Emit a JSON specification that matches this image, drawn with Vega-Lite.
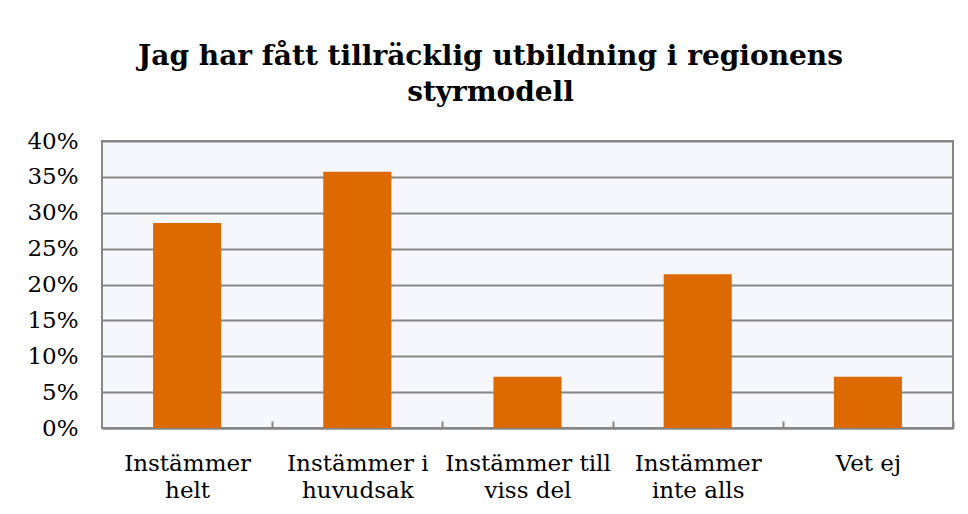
{
  "$schema": "https://vega.github.io/schema/vega-lite/v6.json",
  "autosize": "none",
  "width": 851,
  "height": 287,
  "padding": {"left": 102, "top": 141, "right": 15, "bottom": 86},
  "background": "#ffffff",
  "title": {
    "text": ["Jag har fått tillräcklig utbildning i regionens", "styrmodell"],
    "font": "DejaVu Serif",
    "fontSize": 28,
    "fontWeight": "bold",
    "color": "#000000",
    "anchor": "middle",
    "lineHeight": 36,
    "offset": 23,
    "dx": -37
  },
  "data": {
    "values": [
      {"kategori": "Instämmer|helt", "andel": 0.2857},
      {"kategori": "Instämmer i|huvudsak", "andel": 0.3571},
      {"kategori": "Instämmer till|viss del", "andel": 0.0714},
      {"kategori": "Instämmer|inte alls", "andel": 0.2143},
      {"kategori": "Vet ej", "andel": 0.0714}
    ]
  },
  "mark": {"type": "bar", "color": "#DC6A00"},
  "encoding": {
    "x": {
      "field": "kategori",
      "type": "nominal",
      "sort": null,
      "scale": {"paddingInner": 0.6, "paddingOuter": 0.3},
      "axis": {
        "title": null,
        "labelAngle": 0,
        "labelExpr": "split(datum.value, '|')",
        "labelFont": "DejaVu Serif",
        "labelFontSize": 23,
        "labelColor": "#000000",
        "labelLineHeight": 27,
        "labelPadding": 49,
        "labelBaseline": "alphabetic",
        "labelOffset": -85.1,
        "domain": true,
        "domainColor": "#868686",
        "domainWidth": 2,
        "ticks": true,
        "tickOffset": 85.1,
        "tickSize": -7,
        "tickColor": "#868686",
        "tickWidth": 2,
        "grid": false
      }
    },
    "y": {
      "field": "andel",
      "type": "quantitative",
      "scale": {"domain": [0, 0.4], "nice": false},
      "axis": {
        "title": null,
        "values": [0, 0.05, 0.1, 0.15, 0.2, 0.25, 0.3, 0.35, 0.4],
        "format": ".0%",
        "labelFont": "DejaVu Serif",
        "labelFontSize": 23,
        "labelColor": "#000000",
        "labelPadding": 24,
        "domain": false,
        "ticks": false,
        "grid": true,
        "gridColor": "#868686",
        "gridWidth": 2
      }
    }
  },
  "config": {
    "view": {"fill": "#F6F7FC", "stroke": "#868686", "strokeWidth": 2}
  }
}
